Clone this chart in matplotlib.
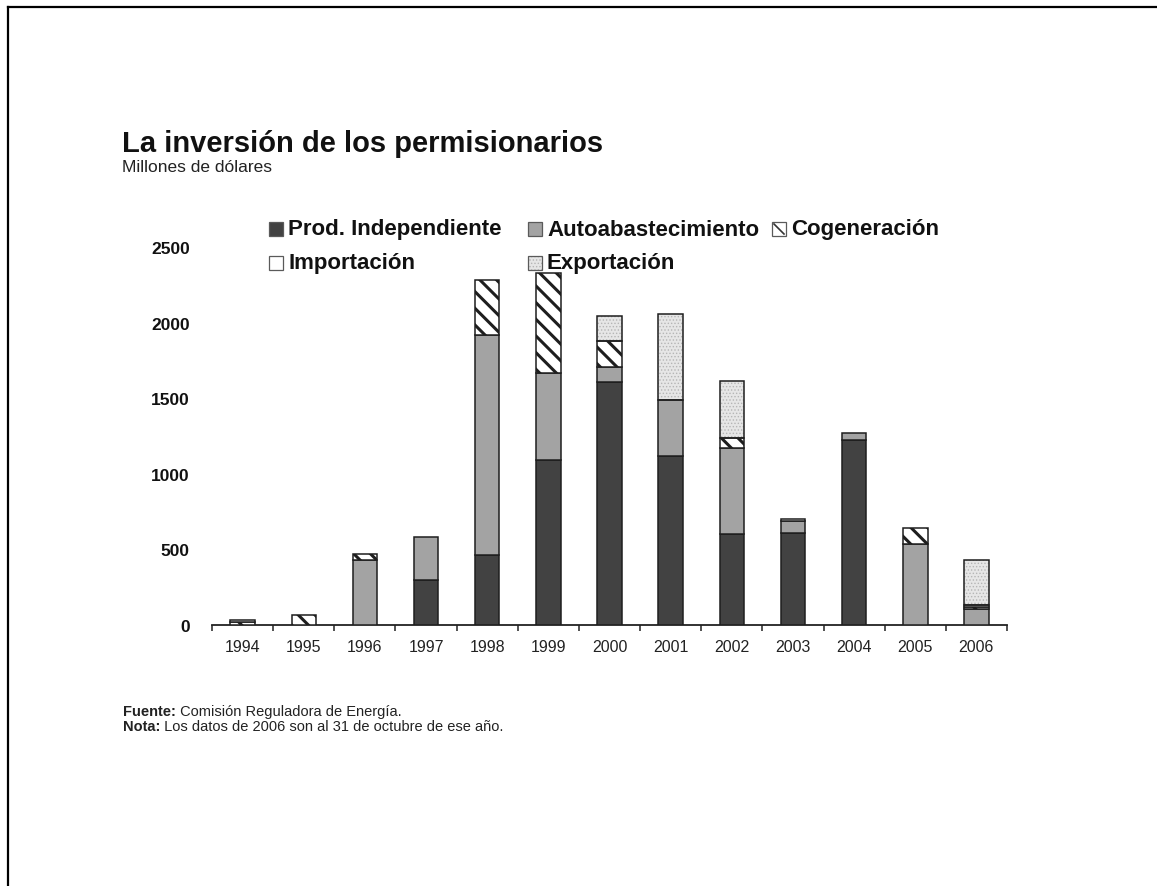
import matplotlib
matplotlib.use("Agg")
import matplotlib.pyplot as plt
from matplotlib.patches import Rectangle
from matplotlib.lines import Line2D
import numpy as np

# inversión por modalidad, millones de dólares
years = ['1994', '1995', '1996', '1997', '1998', '1999', '2000',
         '2001', '2002', '2003', '2004', '2005', '2006']
prod_indep = [0, 0, 0, 300, 460, 1090, 1610, 1120, 600, 610, 1225, 0, 0]
autoabast = [0, 0, 430, 280, 1460, 575, 95, 365, 570, 80, 45, 535, 105]
cogeneracion = [20, 65, 40, 0, 365, 665, 175, 0, 65, 0, 0, 105, 15]
importacion = [15, 0, 0, 0, 0, 0, 0, 0, 0, 12, 0, 0, 13]
exportacion = [0, 0, 0, 0, 0, 0, 165, 570, 380, 0, 0, 0, 300]

yticks = [0, 500, 1000, 1500, 2000, 2500]

plt.rcParams['font.family'] = ['Liberation Sans', 'DejaVu Sans']
plt.rcParams['hatch.linewidth'] = 2.2

W, H = 1157, 887
fig = plt.figure(figsize=(W / 100, H / 100), dpi=100)


def fx(px):
    return px / W


def fy(py):
    return 1 - py / H


ax = fig.add_axes([fx(212), fy(626), fx(1007) - fx(212), fy(248) - fy(626)])

edge = '#1e1e1e'
styles = [
    ('Prod. Independiente', prod_indep, dict(facecolor='#424242')),
    ('Autoabastecimiento', autoabast, dict(facecolor='#a3a3a3')),
    ('Cogeneración', cogeneracion, dict(facecolor='white', hatch='\\\\')),
    ('Importación', importacion, dict(facecolor='white')),
    ('Exportación', exportacion, dict(facecolor='#e4e4e4')),
]

x = np.arange(len(years))
bottom = np.zeros(len(years))
for name, vals, st in styles:
    vals = np.array(vals, dtype=float)
    m = vals > 0
    if name == 'Exportación':
        # fondo punteado y luego el contorno
        with plt.rc_context({'hatch.linewidth': 0.6}):
            ax.bar(x[m], vals[m], 0.4, bottom=bottom[m], facecolor='#e6e6e6',
                   edgecolor='#b5b5b5', hatch='.....', linewidth=0, zorder=2)
        ax.bar(x[m], vals[m], 0.4, bottom=bottom[m], fill=False,
               edgecolor=edge, linewidth=1.1, zorder=3)
    else:
        ax.bar(x[m], vals[m], 0.4, bottom=bottom[m], edgecolor=edge,
               linewidth=1.1, zorder=3, **st)
    bottom += vals

ax.set_xlim(-0.5, len(years) - 0.5)
ax.set_ylim(0, 2500)
for s in ['top', 'right', 'left']:
    ax.spines[s].set_visible(False)
ax.spines['bottom'].set_color('#222222')
ax.spines['bottom'].set_linewidth(1.3)

ax.set_xticks(x)
ax.set_xticklabels(years, fontsize=11.5, color='#222222')
ax.set_xticks(np.arange(-0.5, len(years)), minor=True)
ax.tick_params(axis='x', which='major', length=0, pad=10)
ax.tick_params(axis='x', which='minor', length=4, width=1.1, color='#222222')
ax.set_yticks(yticks)
ax.set_yticklabels([str(v) for v in yticks], fontsize=12.5, fontweight='bold',
                   color='#111111')
ax.tick_params(axis='y', length=0, pad=16)

# leyenda: cuadro + texto en dos renglones (x = inicio del texto)
legend_pos = [(288, 230), (547, 230), (791, 230), (288, 264), (547, 264)]
box = 14
for (tx, py), (name, vals, st) in zip(legend_pos, styles):
    bx = tx - 5 - box
    x0, y0, bw, bh = fx(bx), fy(py + box / 2), fx(box), box / H
    fc = st['facecolor']
    if name == 'Exportación':
        with plt.rc_context({'hatch.linewidth': 0.6}):
            fig.add_artist(Rectangle((x0, y0), bw, bh, transform=fig.transFigure,
                                     facecolor='#e6e6e6', edgecolor='#b5b5b5',
                                     hatch='.....', linewidth=0))
        fc = 'none'
    fig.add_artist(Rectangle((x0, y0), bw, bh, transform=fig.transFigure,
                             facecolor=fc, edgecolor='#5a5a5a', linewidth=0.9))
    if 'hatch' in st:
        fig.add_artist(Line2D([x0 + fx(2), x0 + bw - fx(2)], [y0 + bh - 2 / H, y0 + 2 / H],
                              color='#333333', lw=1.2))
    fig.text(fx(tx), fy(py), name, fontsize=16, fontweight='bold',
             color='#111111', va='center', ha='left')

# títulos
fig.text(fx(122), fy(152), 'La inversión de los permisionarios',
         fontsize=21, fontweight='bold', color='#111111', va='baseline')
fig.text(fx(122), fy(172), 'Millones de dólares', fontsize=12.5,
         color='#222222', va='baseline')

# notas al pie
notas = [('Fuente:', ' Comisión Reguladora de Energía.', 716),
         ('Nota:', ' Los datos de 2006 son al 31 de octubre de ese año.', 731)]
for bold_txt, txt, yb in notas:
    t = fig.text(fx(123), fy(yb), bold_txt, fontsize=10.5, fontweight='bold',
                 color='#222222', va='baseline')
    ax.annotate(txt, xy=(1, 0), xycoords=t, xytext=(0, 0), textcoords='offset points',
                fontsize=10.5, color='#222222', va='bottom', ha='left',
                annotation_clip=False)

# marco
fig.add_artist(Line2D([fx(7.5), fx(7.5)], [fy(7.5), 0], color='black', lw=1.6))
fig.add_artist(Line2D([fx(7.5), 1], [fy(7.5), fy(7.5)], color='black', lw=1.6))

fig.savefig('out.png', dpi=100, facecolor='white')
